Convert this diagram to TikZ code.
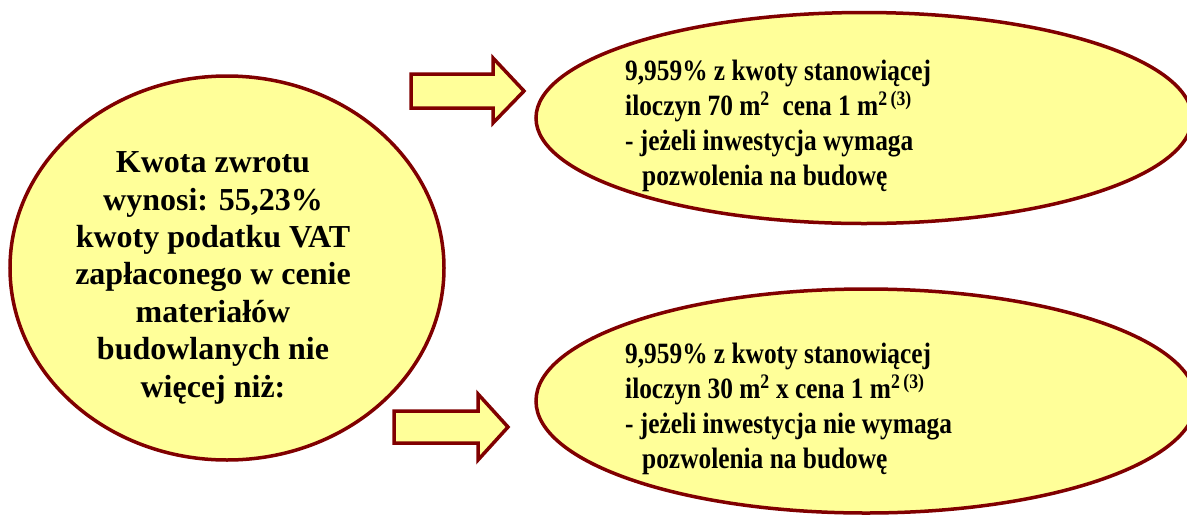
\documentclass[tikz,border=0pt]{standalone}
\usepackage{fontspec}
\setmainfont{Liberation Serif}
\newfontfamily\condserif[FakeStretch=0.86]{Liberation Serif}
\usetikzlibrary{shapes.geometric}
\definecolor{fillyel}{HTML}{FFFF99}
\definecolor{edgered}{HTML}{800000}
\tikzset{
  ell/.style={ellipse, draw=edgered, fill=fillyel, line width=3.5pt, inner sep=0pt},
  blockarrow/.style={draw=edgered, fill=fillyel, line width=3.5pt, line join=miter},
  lefttext/.style={align=center, inner sep=0pt, font=\fontsize{32}{37.4}\selectfont\bfseries},
  righttext/.style={align=left, inner sep=0pt, font=\condserif\fontsize{29.5}{35}\selectfont\bfseries}
}
\begin{document}
\begin{tikzpicture}[x=1pt,y=-1pt]
\useasboundingbox (0,0) rectangle (1187,515);
\fill[white] (0,0) rectangle (1187,515);
% ellipses
\node[ell, minimum width=434pt, minimum height=384pt] (L) at (227,268) {};
\node[ell, minimum width=656pt, minimum height=211pt] (T) at (864,118) {};
\node[ell, minimum width=660pt, minimum height=224pt] (B) at (866,401) {};
% block arrows
\draw[blockarrow] (411,74) -- (493,74) -- (493,58) -- (524,91) -- (493,123) -- (493,108) -- (411,108) -- cycle;
\draw[blockarrow] (394,411) -- (478,411) -- (478,394) -- (508,427) -- (478,460) -- (478,443) -- (394,443) -- cycle;
% texts (base anchor = baseline of last line)
\node[lefttext, anchor=base] (Ltxt) at (213,397) {Kwota zwrotu\\wynosi: 55,23\%\\kwoty podatku VAT\\zapłaconego w cenie\\materiałów\\budowlanych nie\\więcej niż:};
\node[righttext, anchor=base west] (Ttxt) at (625,185) {9,959\% z kwoty stanowiącej\\iloczyn 70 m\textsuperscript{2}\ \ cena 1 m\textsuperscript{2\,(3)}\\- jeżeli inwestycja wymaga\\\hspace*{17pt}pozwolenia na budowę};
\node[righttext, anchor=base west] (Btxt) at (625,468) {9,959\% z kwoty stanowiącej\\iloczyn 30 m\textsuperscript{2} x cena 1 m\textsuperscript{2\,(3)}\\- jeżeli inwestycja nie wymaga\\\hspace*{17pt}pozwolenia na budowę};
\end{tikzpicture}
\end{document}
